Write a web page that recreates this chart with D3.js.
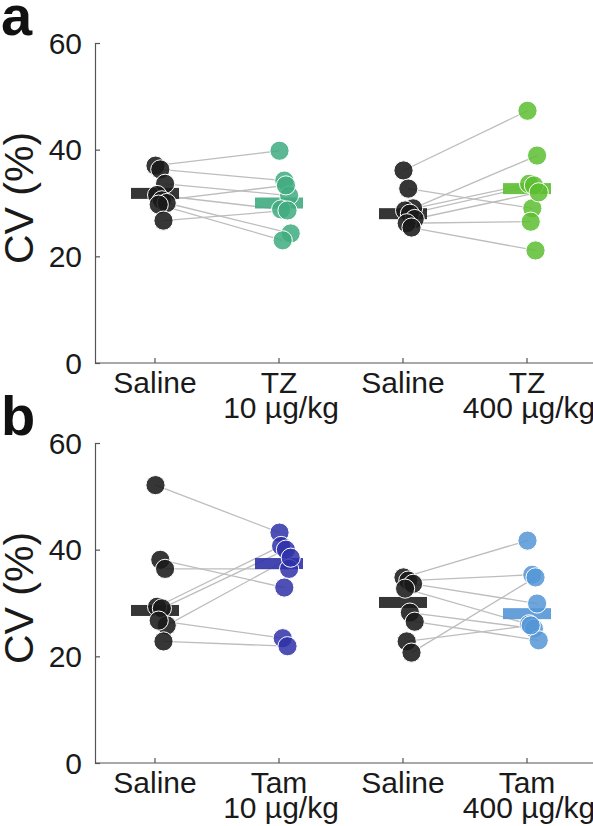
<!DOCTYPE html>
<html>
<head>
<meta charset="utf-8">
<script src="https://cdn.jsdelivr.net/npm/d3@7"></script>
<style>
  html, body { margin: 0; padding: 0; background: #fff; }
  svg { display: block; font-family: "Liberation Sans", Arial, sans-serif; }
</style>
</head>
<body>
<svg id="chart" width="593" height="826"></svg>
<script>
// ---------- data ----------
const yTicks = [0, 20, 40, 60];
const labelsTopA = ["Saline", "TZ", "Saline", "TZ"];
const labelsBotA = ["", "10 µg/kg", "", "400 µg/kg"];
const labelsTopB = ["Saline", "Tam", "Saline", "Tam"];
const labelsBotB = ["", "10 µg/kg", "", "400 µg/kg"];

// panel a (paired by index)
const salineA1 = [37.0, 36.3, 33.6, 31.5, 30.5, 30.0, 29.7, 26.7];
const tz10     = [39.8, 34.2, 31.4, 28.8, 33.3, 24.3, 23.0, 28.6];
const salineA2 = [36.1, 32.7, 29.0, 28.6, 28.0, 27.0, 26.2, 25.4];
const tz400    = [47.3, 29.0, 38.9, 33.6, 33.3, 32.0, 26.5, 21.1];
const barsA    = [31.8, 30.0, 28.0, 32.7];

// panel b (paired by index)
const salineB1 = [52.1, 38.1, 36.4, 29.3, 29.0, 25.8, 26.7, 22.8];
const tam10    = [43.2, 32.9, 36.4, 40.7, 40.0, 38.5, 23.4, 21.9];
const salineB2 = [34.8, 34.2, 33.6, 32.7, 28.2, 26.5, 22.8, 20.7];
const tam400   = [41.7, 35.3, 29.9, 26.0, 25.2, 23.0, 25.8, 34.8];
const barsB    = [28.6, 37.4, 30.1, 28.0];

const colorsA = ["#1a1a1a", "#3fab7f", "#1a1a1a", "#5cbe30"];
const colorsB = ["#1a1a1a", "#2f31a9", "#1a1a1a", "#5596d6"];

// ---------- drawing ----------
const svg = d3.select("#chart");
const cats = [0, 1, 2, 3];
const x = d3.scalePoint().domain(cats).range([155, 527]);
const jit = i => ((i * 3) % 8) * 1.6 - 2.5;

function panel(opts) {
  const { top, bottom, groups, bars, colors, labTop, labBot, letter } = opts;
  const y = d3.scaleLinear().domain([0, 60]).range([bottom, top]);
  const g = svg.append("g");

  // y axis
  const ya = g.append("g").attr("transform", "translate(95,0)")
    .call(d3.axisRight(y).tickValues(yTicks).tickSize(5).tickFormat(""));
  ya.select(".domain").attr("stroke", "#555").attr("stroke-width", 1.2);
  ya.selectAll(".tick line").attr("stroke", "#555").attr("stroke-width", 1.2);
  g.selectAll(".ylab").data(yTicks).join("text")
    .attr("x", 82).attr("y", d => y(d)).attr("dy", "0.36em")
    .attr("text-anchor", "end").attr("font-size", 30).attr("fill", "#1a1a1a")
    .text(d => d);

  // x axis
  const xa = g.append("g").attr("transform", `translate(0,${bottom})`);
  xa.append("line").attr("x1", 95).attr("x2", 593).attr("y1", 0).attr("y2", 0)
    .attr("stroke", "#555").attr("stroke-width", 1.2);
  xa.selectAll(".xt").data(cats).join("line")
    .attr("x1", d => x(d)).attr("x2", d => x(d)).attr("y1", 0).attr("y2", -5)
    .attr("stroke", "#555").attr("stroke-width", 1.2);
  xa.selectAll(".l1").data(cats).join("text")
    .attr("x", d => x(d)).attr("y", 30).attr("text-anchor", "middle")
    .attr("font-size", 30).attr("fill", "#1a1a1a").text(d => labTop[d]);
  xa.selectAll(".l2").data(cats).join("text")
    .attr("x", d => x(d) + 2).attr("y", 55).attr("text-anchor", "middle")
    .attr("font-size", 30).attr("fill", "#1a1a1a").text(d => labBot[d]);

  // y label
  g.append("text").attr("transform", `translate(33,${(top + bottom) / 2 - 5}) rotate(-90)`)
    .attr("text-anchor", "middle").attr("font-size", 41).attr("fill", "#1a1a1a")
    .text("CV (%)");

  // panel letter
  g.append("text").attr("x", 1).attr("y", top - 8).attr("font-size", 56)
    .attr("font-weight", "bold").attr("fill", "#111").text(letter);

  // pair lines
  [[0, 1], [2, 3]].forEach(([a, b]) => {
    g.append("g").selectAll("line").data(groups[a]).join("line")
      .attr("x1", (d, i) => x(a) + jit(i) + 3)
      .attr("y1", d => y(d))
      .attr("x2", (d, i) => x(b) + jit(i) + 3)
      .attr("y2", (d, i) => y(groups[b][i]))
      .attr("stroke", "#bdbdbd").attr("stroke-width", 1.3);
  });

  // median bars
  g.append("g").selectAll("rect").data(bars).join("rect")
    .attr("x", (d, i) => x(i) - 24).attr("width", 48)
    .attr("y", d => y(d) - 5.5).attr("height", 11)
    .attr("fill", (d, i) => colors[i]).attr("fill-opacity", (d, i) => i % 2 ? 0.9 : 0.88);

  // points
  groups.forEach((vals, gi) => {
    g.append("g").selectAll("circle").data(vals).join("circle")
      .attr("cx", (d, i) => x(gi) + jit(i) + 3)
      .attr("cy", d => y(d))
      .attr("r", 9.6)
      .attr("fill", colors[gi]).attr("fill-opacity", gi % 2 ? 0.85 : 0.88)
      .attr("stroke", "#fff").attr("stroke-width", 1);
  });
}

panel({ top: 43, bottom: 363, groups: [salineA1, tz10, salineA2, tz400], bars: barsA,
        colors: colorsA, labTop: labelsTopA, labBot: labelsBotA, letter: "a" });
panel({ top: 443, bottom: 763, groups: [salineB1, tam10, salineB2, tam400], bars: barsB,
        colors: colorsB, labTop: labelsTopB, labBot: labelsBotB, letter: "b" });
</script>
</body>
</html>
